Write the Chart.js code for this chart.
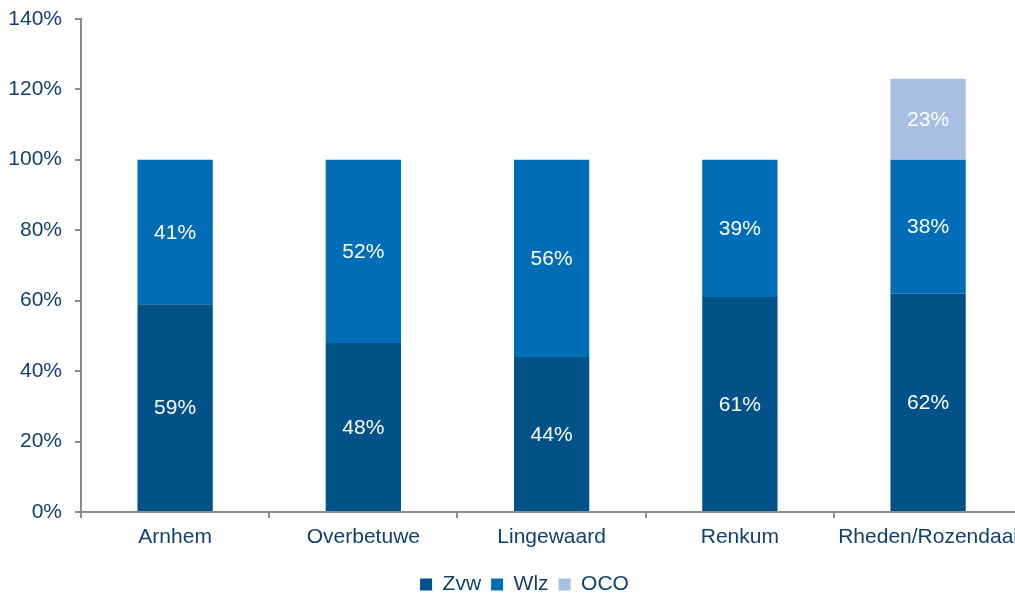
<!DOCTYPE html>
<html><head><meta charset="utf-8">
<script src="https://cdn.jsdelivr.net/npm/chart.js@4/dist/chart.umd.min.js"></script>
<style>html,body{margin:0;padding:0;background:#fff;overflow:hidden;width:1015px;height:597px}#wrap{width:1025px;height:597px}</style>
</head><body><div id="wrap"><canvas id="c" width="1025" height="597"></canvas></div>
<script>
const categories = ['Arnhem','Overbetuwe','Lingewaard','Renkum','Rheden/Rozendaal'];
const zvw = [59,48,44,61,62];
const wlz = [41,52,56,39,38];
const oco = [null,null,null,null,23];
const yTicks = [0,20,40,60,80,100,120,140];

const textColor = '#12406E';
const axisColor = '#8C8C8C';
const fontFam = '"Liberation Sans", Arial, sans-serif';

const labelPlugin = {
  id:'barLabels',
  afterDatasetsDraw(chart){
    const ctx = chart.ctx;
    ctx.save();
    ctx.font = '21px ' + fontFam;
    ctx.fillStyle = '#fff';
    ctx.textAlign='center'; ctx.textBaseline='middle';
    chart.data.datasets.forEach((ds,i)=>{
      const meta = chart.getDatasetMeta(i);
      meta.data.forEach((bar,j)=>{
        const v = ds.data[j];
        if(v==null) return;
        const y = (bar.y + bar.base)/2;
        ctx.fillText(v+'%', bar.x, y+1);
      });
    });
    ctx.restore();
  }
};

const legendShift = {
  id:'legendShift',
  afterLayout(chart){
    const lg = chart.legend;
    if(!lg) return;
    lg.left += 12; lg.right += 12;
    lg.top += 8; lg.bottom += 8;
  }
};

new Chart(document.getElementById('c'),{
  type:'bar',
  data:{labels:categories,datasets:[
    {label:'Zvw',data:zvw,backgroundColor:'#005289'},
    {label:'Wlz',data:wlz,backgroundColor:'#006DB6'},
    {label:'OCO',data:oco,backgroundColor:'#A7C0E2'}
  ]},
  options:{
    responsive:false,animation:false,
    layout:{padding:{top:0,left:0,right:0,bottom:0}},
    datasets:{bar:{categoryPercentage:0.4,barPercentage:1}},
    plugins:{
      tooltip:{enabled:false},
      legend:{position:'bottom',labels:{boxWidth:12,boxHeight:12,color:textColor,font:{size:21,family:fontFam},padding:10}}
    },
    scales:{
      x:{stacked:true,
        afterFit(s){s.height=44;},
        grid:{display:true,drawOnChartArea:false,offset:true,color:axisColor,lineWidth:2,tickLength:6,tickColor:axisColor},
        border:{display:true,color:axisColor,width:2},
        ticks:{color:textColor,font:{size:21,family:fontFam},padding:7,maxRotation:0,autoSkip:false}},
      y:{stacked:true,min:0,max:140,
        afterBuildTicks(s){s.ticks=yTicks.map(v=>({value:v}));},
        afterFit(s){s.width=81;},
        grid:{display:true,drawOnChartArea:false,color:axisColor,lineWidth:2,tickLength:6,tickColor:axisColor},
        border:{display:true,color:axisColor,width:2},
        ticks:{color:textColor,font:{size:21,family:fontFam,lineHeight:0.55},padding:13,callback:v=>v+'%'}}
    }
  },
  plugins:[labelPlugin, legendShift]
});
</script></body></html>
